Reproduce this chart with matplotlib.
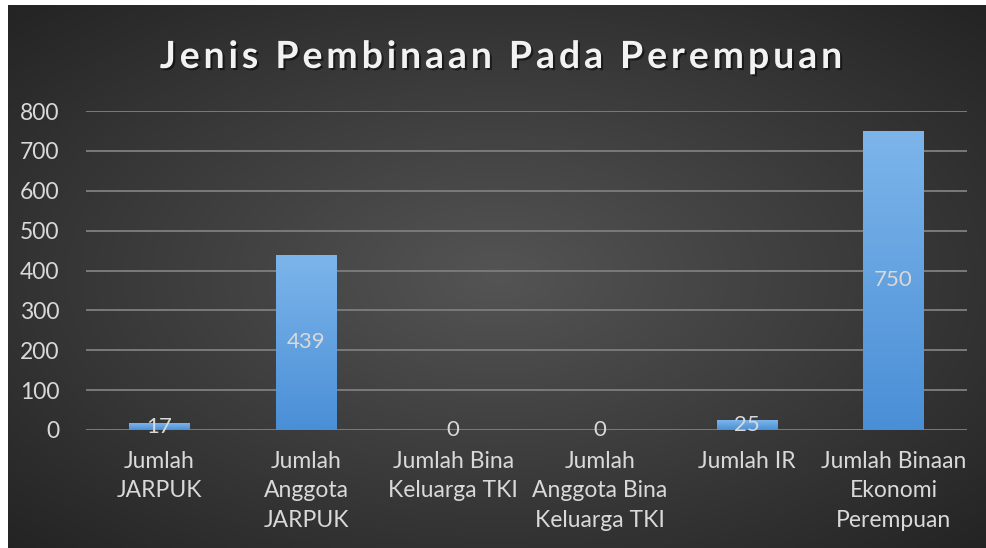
import matplotlib
matplotlib.use("Agg")
import matplotlib.pyplot as plt
import matplotlib.patheffects as pe
import numpy as np

# data
categories = ["Jumlah\nJARPUK", "Jumlah\nAnggota\nJARPUK", "Jumlah Bina\nKeluarga TKI",
              "Jumlah\nAnggota Bina\nKeluarga TKI", "Jumlah IR", "Jumlah Binaan\nEkonomi\nPerempuan"]
values = [17, 439, 0, 0, 25, 750]
yticks = [0, 100, 200, 300, 400, 500, 600, 700, 800]
title = "Jenis Pembinaan Pada Perempuan"

plt.rcParams['font.family'] = ['Lato', 'DejaVu Sans']
W, H = 987, 548
fig = plt.figure(figsize=(W / 100, H / 100), dpi=100, facecolor="white")

# chart area background: radial gradient, lighter in the middle
bg = fig.add_axes([8 / W, 0, (W - 8) / W, (H - 5) / H])
bg.set_axis_off()
yy, xx = np.mgrid[-1:1:300j, -1:1:500j]
r = np.sqrt(xx ** 2 + yy ** 2) / np.sqrt(2)
shade = 0.33 - 0.19 * r
img = np.dstack([shade, shade, shade])
bg.imshow(img, aspect="auto", extent=[0, 1, 0, 1], interpolation="bilinear")
bg.set_xlim(0, 1)
bg.set_ylim(0, 1)

ax = fig.add_axes([86 / W, 1 - 430 / H, (967 - 86) / W, (430 - 111) / H])
ax.patch.set_alpha(0)
x = np.arange(len(categories))
bars = ax.bar(x, values, width=0.41, color="#5b9bd5", zorder=3)

# vertical gradient on each bar
grad = np.linspace(0, 1, 100).reshape(-1, 1)
top_c = np.array([0.49, 0.71, 0.92])
bot_c = np.array([0.29, 0.56, 0.84])
gimg = bot_c[None, None, :] * (1 - grad[:, :, None]) + top_c[None, None, :] * grad[:, :, None]
for b in bars:
    h = b.get_height()
    if h <= 0:
        continue
    im = ax.imshow(gimg, aspect="auto", origin="lower", zorder=3.5,
                   extent=[b.get_x(), b.get_x() + b.get_width(), 0, h])
    im.set_clip_path(b)

for xi, v in zip(x, values):
    ax.text(xi, v / 2, str(v), ha="center", va="center", color="#d9d9d9",
            fontsize=16, zorder=5)

ax.set_xlim(-0.5, len(categories) - 0.5)
ax.set_ylim(0, 800)
ax.set_yticks(yticks)
ax.set_yticklabels([str(t) for t in yticks])
ax.set_xticks(x)
ax.set_xticklabels(categories, linespacing=1.5)
ax.tick_params(axis="both", length=0, colors="#d9d9d9", labelsize=16.5)
ax.tick_params(axis="y", pad=19)
ax.tick_params(axis="x", pad=15)
ax.grid(axis="y", color="#7a7a7a", linewidth=1.4, zorder=0)
for s in ax.spines.values():
    s.set_visible(False)

# letter-spaced bold title
fig.canvas.draw()
renderer = fig.canvas.get_renderer()
fs = 27
spacing = 3.9
def width_of(s):
    if not s:
        return 0.0
    t = fig.text(0, 0, s.replace(" ", "\u00a0"), fontsize=fs, fontweight="bold")
    w = t.get_window_extent(renderer).width
    t.remove()
    return w
total = width_of(title) + spacing * (len(title) - 1)
x0 = 501 - total / 2
shadow = [pe.withSimplePatchShadow(offset=(1.5, -1.5), shadow_rgbFace="black", alpha=0.5)]
for i, ch in enumerate(title):
    px = x0 + width_of(title[:i]) + spacing * i
    fig.text(px / W, 1 - 68 / H, ch, fontsize=fs, fontweight="bold", color="#f2f2f2",
             ha="left", va="baseline", path_effects=shadow)

fig.savefig("out.png", dpi=100, facecolor="white")
